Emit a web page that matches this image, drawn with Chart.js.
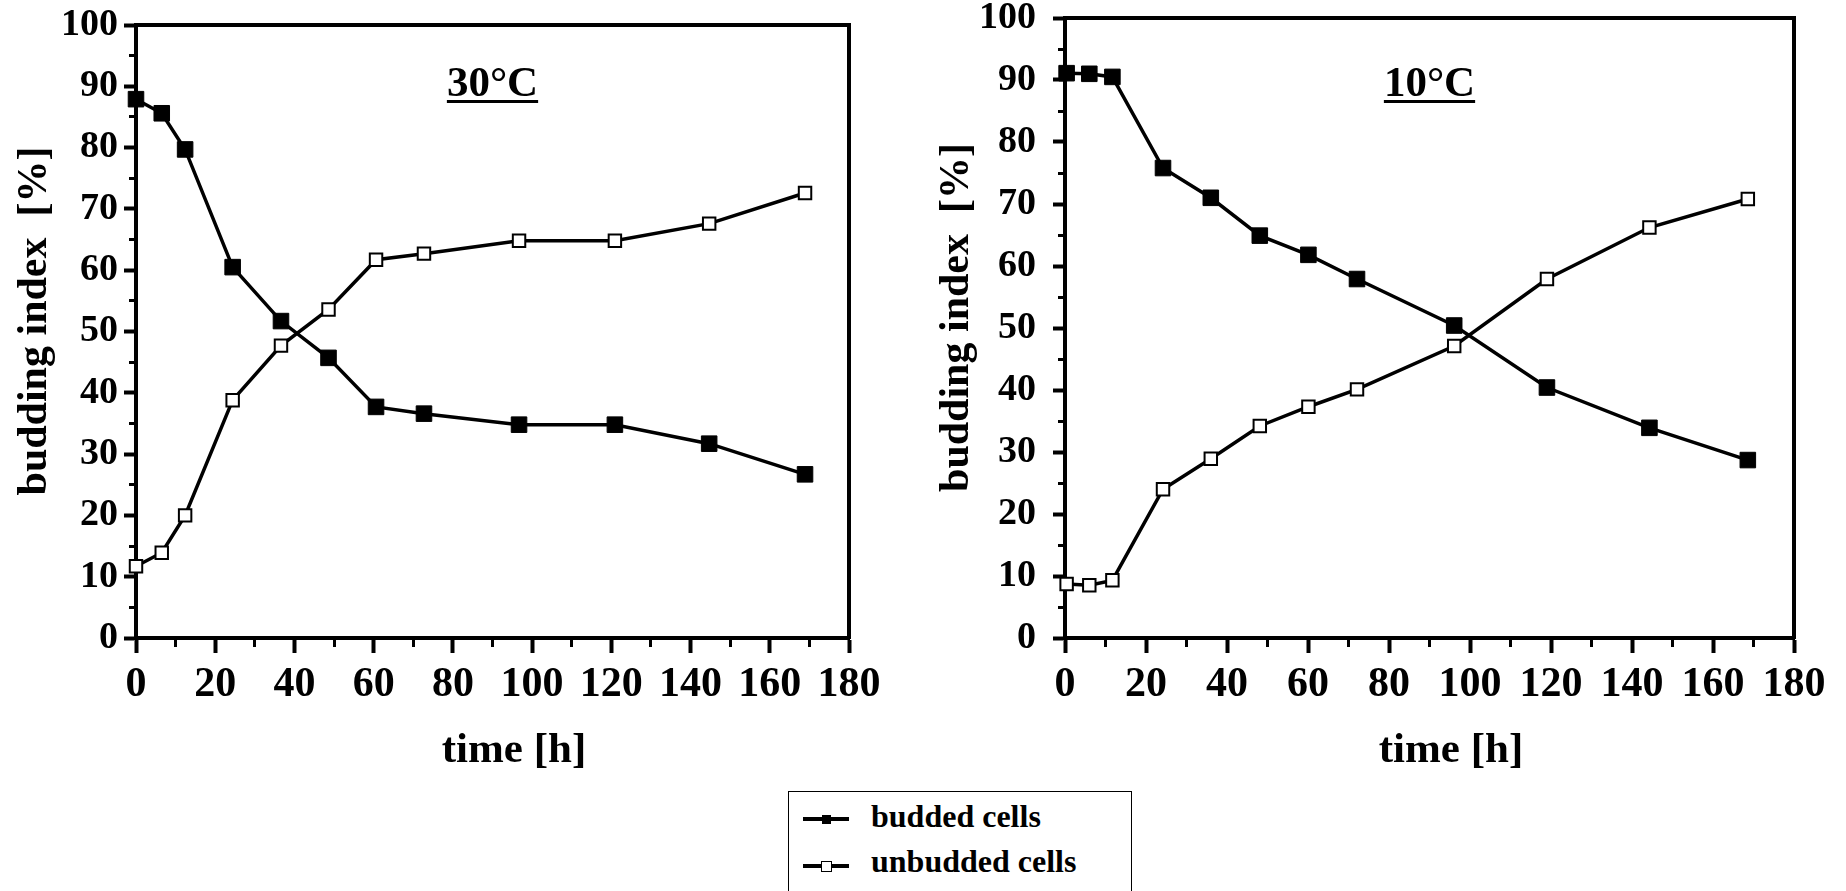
<!DOCTYPE html>
<html>
<head>
<meta charset="utf-8">
<script src="https://cdn.jsdelivr.net/npm/chart.js@4.4.1/dist/chart.umd.min.js"></script>
<style>
  body { margin: 0; background: #fff; width: 1846px; height: 891px; overflow: hidden; position: relative; font-family: "Liberation Serif", serif; }
  .panel { position: absolute; top: 0; height: 780px; }
  .panel canvas { display: block; }
  #legendBox { position: absolute; left: 788px; top: 791px; width: 344px; height: 130px; border: 1.5px solid #000; box-sizing: border-box; }
  .lg-line { position: absolute; left: 803px; width: 46px; height: 3.5px; background: #000; }
  .lg-mark { position: absolute; box-sizing: border-box; border: 1.5px solid #000; }
  .lg-text { position: absolute; left: 871px; font: bold 32px "Liberation Serif", serif; line-height: 32px; white-space: nowrap; color: #000; }
</style>
</head>
<body>
<div class="panel" style="left:0;width:930px"><canvas id="c30" width="930" height="780"></canvas></div>
<div class="panel" style="left:930px;width:916px"><canvas id="c10" width="916" height="780"></canvas></div>
<div id="legendBox"></div>
<div id="legend"></div>
<script>
// time points (h)
var hours30 = [0, 6.5, 12.4, 24.4, 36.6, 48.6, 60.6, 72.7, 96.7, 120.9, 144.7, 168.9];
var budded30 = [87.9, 85.6, 79.7, 60.5, 51.7, 45.7, 37.7, 36.6, 34.8, 34.8, 31.7, 26.7];
var unbudded30 = [11.7, 13.9, 20, 38.8, 47.7, 53.6, 61.7, 62.7, 64.8, 64.8, 67.6, 72.6];

var hours10 = [0.4, 6, 11.7, 24.2, 36, 48.1, 60.1, 72.1, 96.1, 119, 144.3, 168.6];
var budded10 = [91.1, 91, 90.5, 75.8, 71, 64.9, 61.8, 57.9, 50.4, 40.4, 33.9, 28.7];
var unbudded10 = [8.7, 8.5, 9.3, 24, 28.9, 34.2, 37.3, 40.1, 47.1, 57.9, 66.2, 70.8];

var seriesNames = ['budded cells', 'unbudded cells'];
var xTickLabels = [0, 20, 40, 60, 80, 100, 120, 140, 160, 180];
var yTickLabels = [0, 10, 20, 30, 40, 50, 60, 70, 80, 90, 100];

var serif = '"Liberation Serif", "Times New Roman", serif';

// underlined temperature label inside the plot
var panelTitle = {
	id: 'panelTitle',
	afterDraw: function(chart, args, opts) {
		var ctx = chart.ctx, area = chart.chartArea;
		ctx.save();
		ctx.font = 'bold 43px ' + serif;
		ctx.fillStyle = '#000';
		ctx.textAlign = 'center';
		ctx.textBaseline = 'alphabetic';
		var cx = (area.left + area.right) / 2;
		ctx.fillText(opts.text, cx, opts.y);
		var w = ctx.measureText(opts.text).width;
		ctx.fillRect(cx - w / 2, opts.y + 4, w, 3);
		ctx.restore();
	}
};

function points(xs, ys) {
	return xs.map(function(x, i) { return {x: x, y: ys[i]}; });
}

function makeChart(id, hours, budded, unbudded, label, box) {
	return new Chart(document.getElementById(id), {
		type: 'line',
		data: {
			datasets: [{
				label: seriesNames[0],
				data: points(hours, budded),
				borderColor: '#000',
				borderWidth: 3.5,
				pointStyle: 'rect',
				pointRadius: 11,
				pointBackgroundColor: '#000',
				pointBorderColor: '#000',
				pointBorderWidth: 1,
				tension: 0,
				clip: false
			}, {
				label: seriesNames[1],
				data: points(hours, unbudded),
				borderColor: '#000',
				borderWidth: 3.5,
				pointStyle: 'rect',
				pointRadius: 8.8,
				pointBackgroundColor: '#fff',
				pointBorderColor: '#000',
				pointBorderWidth: 2,
				tension: 0,
				clip: false
			}]
		},
		options: {
			responsive: false,
			animation: false,
			layout: { padding: 0 },
			plugins: {
				legend: { display: false },
				tooltip: { enabled: false },
				panelTitle: { text: label, y: 96 }
			},
			scales: {
				x: {
					type: 'linear',
					position: 'bottom',
					min: 0, max: 180,
					ticks: {
						stepSize: 10, autoSkip: false, maxRotation: 0, padding: 7, color: '#000',
						font: { family: serif, size: 42, weight: 'bold' },
						callback: function(v) { return xTickLabels.indexOf(v) >= 0 ? String(v) : ''; }
					},
					grid: {
						drawOnChartArea: false, tickLength: 15, tickColor: '#000',
						tickWidth: function(c) { return c.tick && c.tick.value % 20 ? 3 : 4; },
						tickBorderDash: function(c) { return c.tick && c.tick.value % 20 ? [7, 30] : []; }
					},
					border: { color: '#000', width: 4 },
					title: {
						display: true, text: '\u00a0\u00a0\u00a0\u00a0time [h]', color: '#000',
						font: { family: serif, size: 43, weight: 'bold' },
						padding: { top: 0, bottom: 3 }
					},
					afterFit: function(s) { s.height = box.bottom; }
				},
				xTop: {
					type: 'linear', position: 'top', min: 0, max: 180,
					ticks: { display: false },
					grid: { display: true, drawOnChartArea: false, drawTicks: false },
					border: { color: '#000', width: 4 },
					afterFit: function(s) { s.height = box.top; }
				},
				y: {
					type: 'linear',
					position: 'left',
					min: 0, max: 100,
					ticks: {
						stepSize: 5, autoSkip: false, padding: box.tickPad, color: '#000',
						font: { family: serif, size: 38, weight: 'bold', lineHeight: 0.02 },
						callback: function(v) { return yTickLabels.indexOf(v) >= 0 ? String(v) : ''; }
					},
					grid: {
						drawOnChartArea: false, tickLength: 12, tickColor: '#000',
						tickWidth: function(c) { return c.tick && c.tick.value % 10 ? 3 : 4; },
						tickBorderDash: function(c) { return c.tick && c.tick.value % 10 ? [0, 5, 30, 0] : []; }
					},
					border: { color: '#000', width: 4 },
					title: {
						display: true, text: '\u00a0\u00a0budding index  [%]', color: '#000',
						font: { family: serif, size: 42, weight: 'bold' },
						padding: { top: box.titlePad, bottom: 0 }
					},
					afterFit: function(s) { s.width = box.left; }
				},
				yRight: {
					type: 'linear', position: 'right', min: 0, max: 100,
					ticks: { display: false },
					grid: { display: true, drawOnChartArea: false, drawTicks: false },
					border: { color: '#000', width: 4 },
					afterFit: function(s) { s.width = box.right; }
				}
			}
		},
		plugins: [panelTitle]
	});
}

var chart30 = makeChart('c30', hours30, budded30, unbudded30, '30\u00b0C',
	{ left: 136, right: 930 - 849, top: 25, bottom: 780 - 638, tickPad: 6, titlePad: 10 });
var chart10 = makeChart('c10', hours10, budded10, unbudded10, '10\u00b0C',
	{ left: 1065 - 930, right: 916 - 864, top: 18, bottom: 780 - 638, tickPad: 17, titlePad: 2 });

// shared legend under the two panels
var legend = document.getElementById('legend');
var rows = [
	{ lineY: 819, markSize: 9, fill: '#000', textTop: 800 },
	{ lineY: 866, markSize: 11, fill: '#fff', textTop: 845 }
];
seriesNames.forEach(function(name, i) {
	var r = rows[i];
	var line = document.createElement('div');
	line.className = 'lg-line';
	line.style.top = (r.lineY - 1.75) + 'px';
	legend.appendChild(line);
	var mark = document.createElement('div');
	mark.className = 'lg-mark';
	mark.style.width = r.markSize + 'px';
	mark.style.height = r.markSize + 'px';
	mark.style.left = (826 - r.markSize / 2) + 'px';
	mark.style.top = (r.lineY - r.markSize / 2) + 'px';
	mark.style.background = r.fill;
	legend.appendChild(mark);
	var text = document.createElement('div');
	text.className = 'lg-text';
	text.style.top = r.textTop + 'px';
	text.textContent = name;
	legend.appendChild(text);
});
</script>
</body>
</html>
